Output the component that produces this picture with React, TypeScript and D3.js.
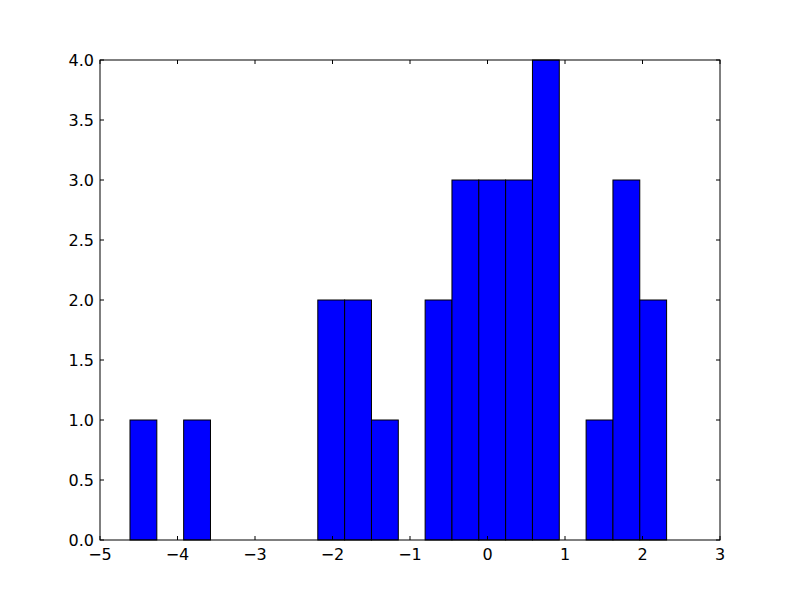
import React, { useEffect, useRef } from 'react';
import * as d3 from 'd3';

// histogram bins (20 bins, equal width)
const binStart = -4.613;
const binWidth = 0.3462;
const counts = [1, 0, 1, 0, 0, 0, 0, 2, 2, 1, 0, 2, 3, 3, 3, 4, 0, 1, 3, 2];

const xTicks = [-5, -4, -3, -2, -1, 0, 1, 2, 3];
const yTicks = [0, 0.5, 1, 1.5, 2, 2.5, 3, 3.5, 4];

const width = 800;
const height = 600;
const margin = { top: 60, right: 80, bottom: 60, left: 100 };

const App: React.FC = () => {
  const svgRef = useRef<SVGSVGElement>(null);

  useEffect(() => {
    if (!svgRef.current) return;
    const svg = d3.select(svgRef.current);
    svg.selectAll('*').remove();

    const iw = width - margin.left - margin.right;
    const ih = height - margin.top - margin.bottom;

    const x = d3.scaleLinear().domain([-5, 3]).range([0, iw]);
    const y = d3.scaleLinear().domain([0, 4]).range([ih, 0]);

    svg.append('rect').attr('width', width).attr('height', height).attr('fill', '#ffffff');

    const g = svg.append('g').attr('transform', `translate(${margin.left},${margin.top})`);

    const bins = counts.map((c, i) => ({
      x0: binStart + i * binWidth,
      x1: binStart + (i + 1) * binWidth,
      count: c,
    }));

    // bars
    g.selectAll('.bar')
      .data(bins.filter(b => b.count > 0))
      .enter()
      .append('rect')
      .attr('class', 'bar')
      .attr('x', d => x(d.x0))
      .attr('y', d => y(d.count))
      .attr('width', d => x(d.x1) - x(d.x0))
      .attr('height', d => y(0) - y(d.count))
      .attr('fill', '#0000ff')
      .attr('stroke', '#000000')
      .attr('stroke-width', 1);

    const font = 'DejaVu Sans, sans-serif';
    const fontSize = '16px';
    const tickLen = 4;

    // x ticks (bottom and top, inward)
    xTicks.forEach(t => {
      const px = x(t);
      g.append('line').attr('x1', px).attr('x2', px).attr('y1', ih).attr('y2', ih - tickLen)
        .attr('stroke', '#000').attr('stroke-width', 1);
      g.append('line').attr('x1', px).attr('x2', px).attr('y1', 0).attr('y2', tickLen)
        .attr('stroke', '#000').attr('stroke-width', 1);
      g.append('text')
        .attr('x', px)
        .attr('y', ih + 19.5)
        .attr('text-anchor', 'middle')
        .attr('font-family', font)
        .attr('font-size', fontSize)
        .attr('fill', '#000')
        .text(d3.format('d')(t).replace('-', '\u2212'));
    });

    // y ticks (left and right, inward)
    yTicks.forEach(t => {
      const py = y(t);
      g.append('line').attr('x1', 0).attr('x2', tickLen).attr('y1', py).attr('y2', py)
        .attr('stroke', '#000').attr('stroke-width', 1);
      g.append('line').attr('x1', iw).attr('x2', iw - tickLen).attr('y1', py).attr('y2', py)
        .attr('stroke', '#000').attr('stroke-width', 1);
      g.append('text')
        .attr('x', -6)
        .attr('y', py + 5.5)
        .attr('text-anchor', 'end')
        .attr('font-family', font)
        .attr('font-size', fontSize)
        .attr('fill', '#000')
        .text(d3.format('.1f')(t));
    });

    // frame
    g.append('rect')
      .attr('width', iw)
      .attr('height', ih)
      .attr('fill', 'none')
      .attr('stroke', '#000')
      .attr('stroke-width', 1);
  }, []);

  return (
    <svg
      ref={svgRef}
      width={width}
      height={height}
      style={{ position: 'absolute', left: 0, top: 0 }}
    />
  );
};

export default App;
